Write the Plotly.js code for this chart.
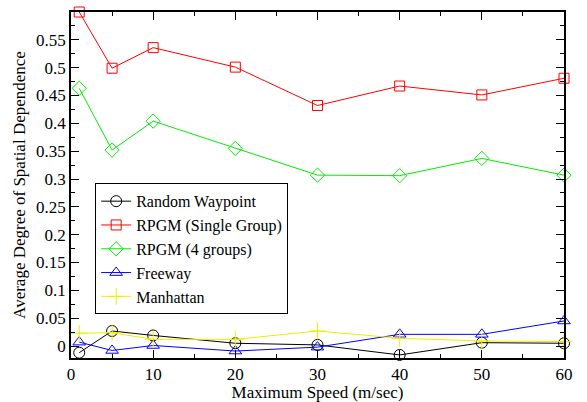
<!DOCTYPE html>
<html>
<head>
<meta charset="utf-8">
<script src="https://cdn.plot.ly/plotly-3.0.1.min.js"></script>
<style>
html, body { margin:0; padding:0; background:#fff; }
svg text { font-family: 'Liberation Serif', 'Times New Roman', serif !important; }
</style>
</head>
<body>
<div id="chart" style="width:587px;height:402px"></div>
<script>
var speeds = [1, 5, 10, 20, 30, 40, 50, 60];
var randomWaypoint = [-0.012, 0.027, 0.019, 0.005, 0.002, -0.016, 0.006, 0.005];
var rpgmSingle = [0.600, 0.499, 0.536, 0.501, 0.432, 0.467, 0.451, 0.481];
var rpgm4 = [0.463, 0.352, 0.404, 0.355, 0.307, 0.306, 0.337, 0.307];
var freeway = [0.007, -0.008, 0.001, -0.009, -0.002, 0.021, 0.021, 0.045];
var manhattan = [0.023, 0.024, 0.012, 0.012, 0.027, 0.014, 0.009, 0.008];
var yTickVals = [0, 0.05, 0.1, 0.15, 0.2, 0.25, 0.3, 0.35, 0.4, 0.45, 0.5, 0.55];
var yTickText = ["0", "0.05", "0.1", "0.15", "0.2", "0.25", "0.3", "0.35", "0.4", "0.45", "0.5", "0.55"];
var xTickVals = [0, 10, 20, 30, 40, 50, 60];

(function () {
  function mk(name, y, color, symbol, size) {
    return {
      x: speeds, y: y, name: name, type: 'scatter', mode: 'lines+markers',
      line: {color: color, width: 1},
      marker: {symbol: symbol, size: size, color: color, line: {color: color, width: 1}},
      cliponaxis: false
    };
  }
  var traces = [
    mk('Random Waypoint', randomWaypoint, '#000000', 'circle-open', 11),
    mk('RPGM (Single Group)', rpgmSingle, '#ff0000', 'square-open', 10),
    mk('RPGM (4 groups)', rpgm4, '#00ee00', 'diamond-open', 11),
    mk('Freeway', freeway, '#0000ff', 'triangle-up-open', 11),
    mk('Manhattan', manhattan, '#eeee00', 'cross-thin-open', 12)
  ];
  var serif = 'Liberation Serif';
  var lay = {
    width: 587, height: 402,
    margin: {l: 71, r: 23, t: 12, b: 44},
    paper_bgcolor: '#fff', plot_bgcolor: '#fff',
    font: {family: serif, size: 17, color: '#000'},
    showlegend: true,
    legend: {
      x: 0.049, y: 0.505, xanchor: 'left', yanchor: 'top',
      bgcolor: '#fff', bordercolor: '#000', borderwidth: 1,
      font: {family: serif, size: 16, color: '#000'},
      tracegroupgap: 0, itemwidth: 30
    },
    xaxis: {
      range: [0, 60], tickvals: xTickVals, ticktext: xTickVals.map(String),
      ticks: 'inside', ticklen: 8, tickwidth: 1, tickcolor: '#000',
      minor: {dtick: 5, ticks: 'inside', ticklen: 4, tickcolor: '#000', showgrid: false},
      showline: true, linecolor: '#000', linewidth: 1.5, mirror: 'ticks',
      showgrid: false, zeroline: false,
      tickfont: {family: serif, size: 17, color: '#000'},
      title: {text: 'Maximum Speed (m/sec)', font: {family: serif, size: 17, color: '#000'}, standoff: 3}
    },
    yaxis: {
      range: [-0.0215, 0.6], tickvals: yTickVals, ticktext: yTickText,
      ticks: 'inside', ticklen: 8, tickwidth: 1, tickcolor: '#000',
      minor: {dtick: 0.025, ticks: 'inside', ticklen: 4, tickcolor: '#000', showgrid: false},
      showline: true, linecolor: '#000', linewidth: 1.5, mirror: 'ticks',
      showgrid: false, zeroline: false,
      tickfont: {family: serif, size: 17, color: '#000'},
      title: {text: 'Average Degree of Spatial Dependence', font: {family: serif, size: 17, color: '#000'}, standoff: 6}
    }
  };
  Plotly.newPlot('chart', traces, lay, {displayModeBar: false});
})();
</script>
</body>
</html>
